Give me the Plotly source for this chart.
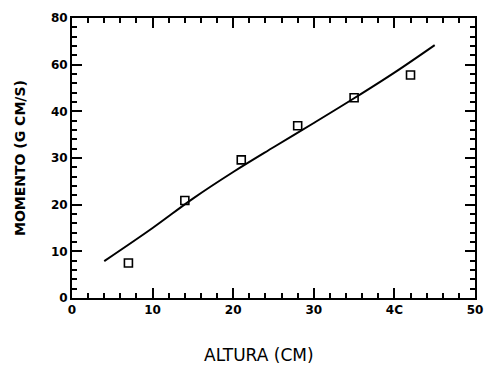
import plotly.graph_objects as go

# Data
altura = [7, 14, 21, 28, 35, 42]
momento = [7.5, 20.9, 29.6, 36.9, 42.9, 47.8]

fit_x = [4, 10, 15, 20, 25, 30, 35, 40, 45]
fit_y = [7.9, 15.0, 21.3, 27.0, 32.3, 37.5, 42.8, 48.3, 54.2]

x_tickvals = [0, 10, 20, 30, 40, 50]
x_ticktext = ["0", "10", "20", "30", "4C", "50"]
y_tickvals = [0, 10, 20, 30, 40, 50, 60]
y_ticktext = ["0", "10", "20", "30", "40", "60", "80"]

fig = go.Figure()
fig.add_trace(go.Scatter(x=fit_x, y=fit_y, mode="lines",
                         line=dict(color="black", width=2), line_shape="spline",
                         showlegend=False, hoverinfo="skip"))
fig.add_trace(go.Scatter(x=altura, y=momento, mode="markers",
                         marker=dict(symbol="square-open", size=8, color="black",
                                     line=dict(width=1.6, color="black")),
                         showlegend=False))

axis_common = dict(showgrid=False, zeroline=False, showline=True, linecolor="black",
                   linewidth=2, ticks="inside", ticklen=10, tickwidth=2, tickcolor="black",
                   mirror="ticks",
                   tickfont=dict(family="DejaVu Sans", size=12, color="black", weight="bold"))

fig.update_xaxes(range=[0, 50], tickvals=x_tickvals, ticktext=x_ticktext,
                 minor=dict(dtick=2, ticks="inside", ticklen=5, tickwidth=1.5,
                            tickcolor="black", showgrid=False),
                 **axis_common)
fig.update_yaxes(range=[0, 60], tickvals=y_tickvals, ticktext=y_ticktext,
                 minor=dict(dtick=2, ticks="inside", ticklen=5, tickwidth=1.5,
                            tickcolor="black", showgrid=False),
                 **axis_common)

fig.add_annotation(text="ALTURA (CM)", xref="paper", yref="paper",
                   x=0.465, y=-0.205, yanchor="middle", xanchor="center", showarrow=False,
                   font=dict(family="DejaVu Sans", size=17, color="black"))
fig.add_annotation(text="<b>MOMENTO (G CM/S)</b>", xref="paper", yref="paper",
                   x=-0.129, y=0.5, xanchor="center", yanchor="middle", textangle=-90,
                   showarrow=False,
                   font=dict(family="DejaVu Sans", size=14, color="black"))

fig.update_layout(width=494, height=367, plot_bgcolor="white", paper_bgcolor="white",
                  margin=dict(l=72, r=11, t=16, b=69))

fig.write_html("out.html", config={"displayModeBar": False},
               post_script="document.body.style.margin='0';")
